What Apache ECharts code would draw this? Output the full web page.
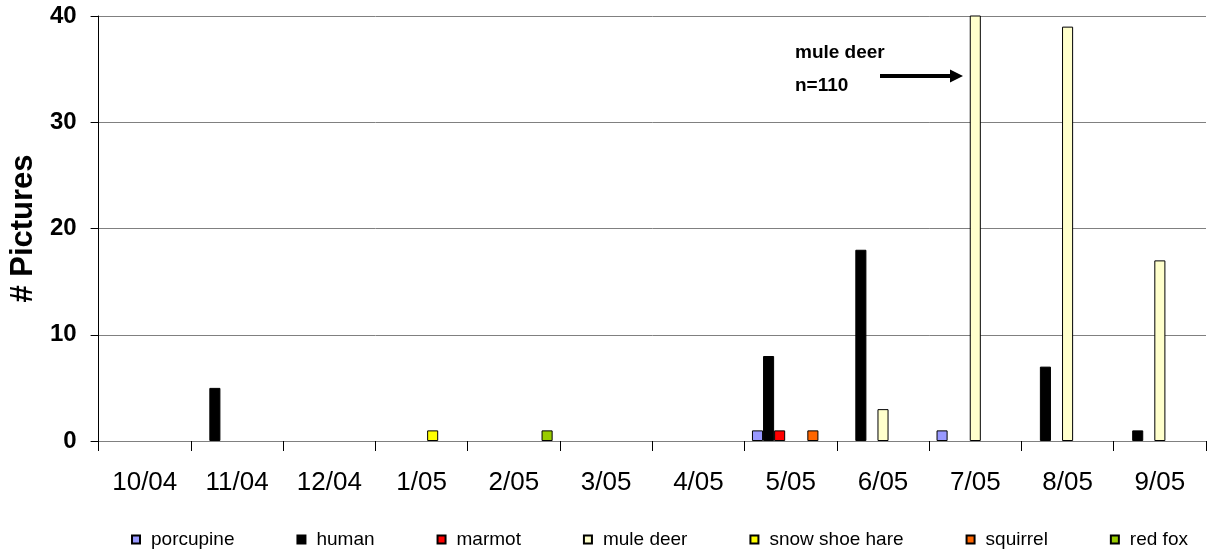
<!DOCTYPE html>
<html>
<head>
<meta charset="utf-8">
<script src="https://cdn.jsdelivr.net/npm/echarts@6/dist/echarts.min.js"></script>
<style>
html,body{margin:0;padding:0;background:#fff;}
#chart{width:1207px;height:557px;}
</style>
</head>
<body>
<div id="chart"></div>
<script>
const categories = ['10/04','11/04','12/04','1/05','2/05','3/05','4/05','5/05','6/05','7/05','8/05','9/05'];
const porcupine  = [0,0,0,0,0,0,0,1,0,1,0,0];
const human      = [0,5,0,0,0,0,0,8,18,0,7,1];
const marmot     = [0,0,0,0,0,0,0,1,0,0,0,0];
const muleDeer   = [0,0,0,0,0,0,0,0,3,110,39,17];
const snowShoeHare = [0,0,0,1,0,0,0,0,0,0,0,0];
const squirrel   = [0,0,0,0,0,0,0,1,0,0,0,0];
const redFox     = [0,0,0,0,1,0,0,0,0,0,0,0];
const yTicks = [0,10,20,30,40];

const seriesDefs = [
  ['porcupine', porcupine, '#9999FF'],
  ['human', human, '#000000'],
  ['marmot', marmot, '#FF0000'],
  ['mule deer', muleDeer, '#FFFFCC'],
  ['snow shoe hare', snowShoeHare, '#FFFF00'],
  ['squirrel', squirrel, '#FF6600'],
  ['red fox', redFox, '#99CC00']
];
const FONT = '"Liberation Sans", Arial, sans-serif';

const chart = echarts.init(document.getElementById('chart'), null, {renderer:'canvas'});
chart.setOption({
  animation:false,
  backgroundColor:'#fff',
  grid:{left:96, right:1, top:16, bottom:116, containLabel:false},
  legend:{
    bottom:3, left:126,
    itemWidth:8, itemHeight:8, itemGap:62,
    icon:'rect',
    textStyle:{fontFamily:FONT, fontSize:19, color:'#000', padding:[0,0,0,6]},
    data: seriesDefs.map(s=>s[0])
  },
  xAxis:{
    type:'category', data:categories,
    axisLine:{lineStyle:{color:'#808080', width:1}},
    axisTick:{show:true, length:10, lineStyle:{color:'#000'}},
    axisLabel:{fontFamily:FONT, fontSize:26, color:'#000', margin:29}
  },
  yAxis:{
    type:'value', min:yTicks[0], max:yTicks[yTicks.length-1], interval:10,
    name:'# Pictures', nameLocation:'middle', nameGap:46,
    nameTextStyle:{fontFamily:FONT, fontSize:31, fontWeight:'bold', color:'#000'},
    axisLine:{show:true, lineStyle:{color:'#000', width:1}},
    axisTick:{show:true, length:8, lineStyle:{color:'#000'}},
    axisLabel:{fontFamily:FONT, fontSize:24, fontWeight:'bold', color:'#000', margin:22},
    splitLine:{show:true, lineStyle:{color:'#808080', width:1}}
  },
  series: seriesDefs.map(([name, arr, color]) => ({
    name, type:'bar',
    data: arr.map(v => v === 0 ? '-' : v),
    barGap:'0%', barCategoryGap:'16%',
    itemStyle:{color, borderColor:'#000', borderWidth:1}
  })),
  graphic:[
    {type:'text', left:795, top:43, style:{text:'mule deer', font:'bold 19px "Liberation Sans", Arial', fill:'#000'}},
    {type:'text', left:795, top:76, style:{text:'n=110', font:'bold 19px "Liberation Sans", Arial', fill:'#000'}},
    {type:'line', shape:{x1:880, y1:76, x2:952, y2:76}, style:{stroke:'#000', lineWidth:4}},
    {type:'polygon', shape:{points:[[950,69.5],[963,76],[950,82.5]]}, style:{fill:'#000'}}
  ]
});
</script>
</body>
</html>
